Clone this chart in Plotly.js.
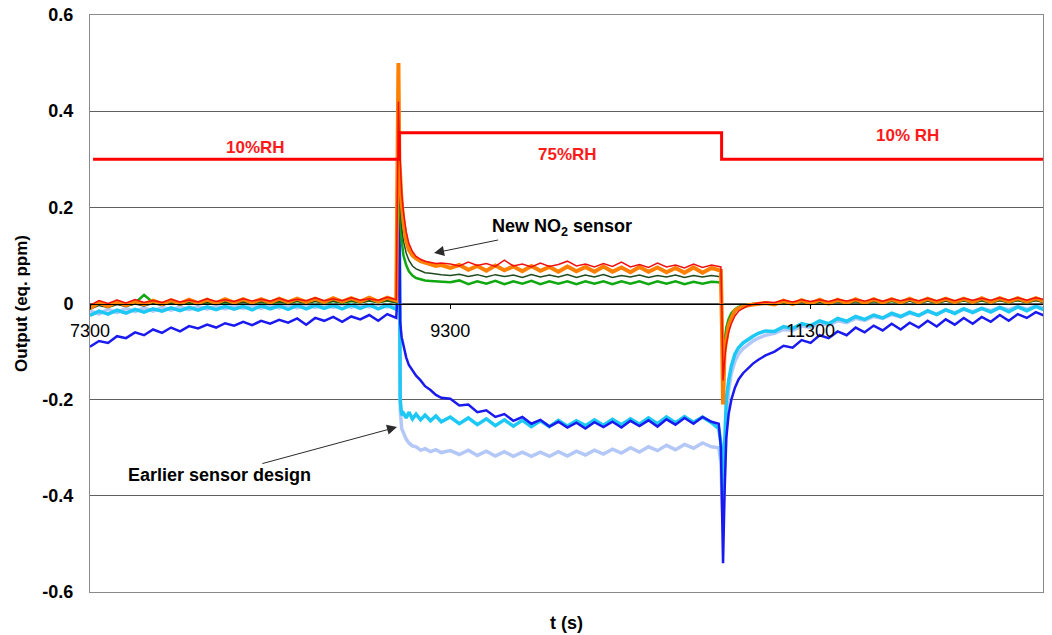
<!DOCTYPE html>
<html>
<head>
<meta charset="utf-8">
<script src="https://cdn.plot.ly/plotly-3.0.1.min.js"></script>
<style>html,body{margin:0;padding:0;background:#fff;}#chart{width:1052px;height:635px;}</style>
</head>
<body>
<div id="chart"></div>
<script>
// time axis (s)
const t = [7300,7350,7400,7450,7500,7550,7600,7650,7700,7750,7800,7850,7900,7950,8000,8050,8100,8150,8200,8250,8300,8350,8400,8450,8500,8550,8600,8650,8700,8750,8800,8850,8900,8950,9000,
9012,9017,9022,9030,9040,9055,9070,9090,9110,9135,9160,9190,9220,9250,
9300,9350,9400,9450,9500,9550,9600,9650,9700,9750,9800,9850,9900,9950,10000,10050,10100,10150,10200,10250,10300,10350,10400,10450,10500,10550,10600,10650,10700,10750,
10790,10802,10808,10814,10822,10832,10845,10860,10880,10900,10925,10950,10980,11010,11050,
11100,11150,11200,11250,11300,11350,11400,11450,11500,11550,11600,11650,11700,11750,11800,11850,11900,11950,12000,12050,12100,12150,12200,12250,12300,12350,12400,12450,12500,12550,12600];

// New NO2 sensor traces
const newOrange = [-0.010,0.002,-0.006,0.004,-0.004,0.005,-0.002,0.006,-0.001,0.007,0.000,0.008,0.001,0.008,0.001,0.009,0.002,0.009,0.002,0.009,0.002,0.010,0.003,0.010,0.003,0.010,0.003,0.011,0.004,0.011,0.004,0.012,0.004,0.012,0.006,
0.50,0.30,0.26,0.21,0.17,0.13,0.112,0.100,0.094,0.088,0.085,0.082,0.078,0.080,
0.074,0.080,0.070,0.078,0.068,0.079,0.069,0.077,0.067,0.078,0.068,0.076,0.066,0.077,0.067,0.076,0.066,0.077,0.066,0.075,0.065,0.076,0.066,0.075,0.065,0.074,0.064,0.075,0.064,0.074,
0.070,0.068,-0.05,-0.21,-0.10,-0.07,-0.045,-0.03,-0.015,-0.010,-0.006,-0.004,-0.002,0.000,0.001,
-0.002,0.006,-0.001,0.007,0.000,0.008,0.000,0.008,0.001,0.009,0.001,0.009,0.002,0.009,0.002,0.010,0.002,0.010,0.003,0.010,0.003,0.010,0.003,0.011,0.003,0.011,0.004,0.011,0.004,0.011,0.004];

const newRed = [-0.004,0.006,0.000,0.007,0.001,0.008,0.002,0.006,0.002,0.009,0.003,0.007,0.003,0.010,0.004,0.008,0.004,0.010,0.005,0.009,0.005,0.011,0.005,0.009,0.006,0.012,0.006,0.010,0.006,0.012,0.007,0.010,0.007,0.013,0.008,
0.42,0.34,0.28,0.23,0.19,0.15,0.125,0.108,0.098,0.092,0.088,0.086,0.083,0.084,
0.082,0.078,0.086,0.079,0.083,0.077,0.090,0.078,0.082,0.076,0.084,0.077,0.081,0.088,0.078,0.082,0.076,0.083,0.077,0.086,0.076,0.081,0.075,0.084,0.076,0.080,0.074,0.082,0.075,0.080,
0.078,0.076,-0.02,-0.16,-0.12,-0.085,-0.06,-0.042,-0.026,-0.016,-0.010,-0.005,-0.002,0.001,0.003,
0.002,0.007,0.003,0.008,0.004,0.008,0.004,0.009,0.005,0.009,0.005,0.010,0.005,0.010,0.006,0.010,0.006,0.011,0.006,0.011,0.006,0.011,0.007,0.011,0.007,0.012,0.007,0.012,0.007,0.012,0.008];

const newDarkGreen = [-0.012,-0.004,-0.008,-0.002,-0.006,-0.001,-0.005,0.000,-0.004,0.001,-0.003,0.002,-0.002,0.002,-0.002,0.003,-0.001,0.003,-0.001,0.004,0.000,0.004,0.000,0.005,0.000,0.005,0.001,0.005,0.001,0.006,0.001,0.006,0.002,0.006,0.002,
0.30,0.26,0.20,0.16,0.13,0.105,0.09,0.078,0.072,0.068,0.064,0.063,0.061,0.060,
0.058,0.061,0.056,0.060,0.055,0.060,0.056,0.059,0.054,0.060,0.055,0.059,0.055,0.060,0.054,0.059,0.055,0.060,0.054,0.058,0.055,0.059,0.054,0.058,0.055,0.059,0.054,0.058,0.055,0.058,
0.056,0.055,-0.03,-0.14,-0.09,-0.06,-0.038,-0.024,-0.014,-0.008,-0.005,-0.003,-0.002,-0.001,0.000,
-0.003,0.002,-0.002,0.003,-0.002,0.003,-0.001,0.004,-0.001,0.004,-0.001,0.004,0.000,0.005,0.000,0.005,0.000,0.005,0.001,0.005,0.001,0.006,0.001,0.006,0.001,0.006,0.002,0.006,0.002,0.006,0.002];

const newGreen = [-0.008,-0.002,-0.006,0.000,-0.004,0.001,0.018,0.002,-0.002,0.002,-0.002,0.002,-0.001,0.003,-0.001,0.003,0.000,0.004,0.000,0.004,0.000,0.004,0.001,0.005,0.001,0.005,0.001,0.005,0.001,0.005,0.002,0.006,0.002,0.006,0.002,
0.26,0.22,0.17,0.13,0.10,0.08,0.067,0.058,0.053,0.050,0.048,0.047,0.046,0.046,
0.044,0.048,0.040,0.046,0.041,0.047,0.040,0.046,0.041,0.047,0.040,0.046,0.041,0.046,0.040,0.046,0.041,0.046,0.040,0.046,0.041,0.046,0.040,0.046,0.041,0.046,0.040,0.045,0.041,0.045,
0.044,0.042,-0.04,-0.13,-0.08,-0.05,-0.032,-0.02,-0.012,-0.007,-0.004,-0.002,-0.001,0.000,0.000,
-0.002,0.003,-0.001,0.004,-0.001,0.004,0.000,0.005,0.000,0.005,0.000,0.005,0.001,0.005,0.001,0.006,0.001,0.006,0.001,0.006,0.002,0.006,0.002,0.006,0.002,0.007,0.002,0.007,0.002,0.007,0.003];

// Earlier sensor design traces
const oldBlue = [-0.090,-0.078,-0.082,-0.068,-0.072,-0.060,-0.066,-0.054,-0.061,-0.050,-0.058,-0.047,-0.052,-0.044,-0.050,-0.041,-0.046,-0.038,-0.045,-0.036,-0.042,-0.034,-0.040,-0.031,-0.044,-0.030,-0.036,-0.028,-0.038,-0.027,-0.033,-0.024,-0.036,-0.022,-0.030,
0.05,0.19,-0.04,-0.07,-0.09,-0.112,-0.128,-0.14,-0.15,-0.16,-0.172,-0.18,-0.19,-0.196,
-0.198,-0.212,-0.210,-0.226,-0.222,-0.236,-0.230,-0.244,-0.236,-0.250,-0.242,-0.256,-0.246,-0.258,-0.248,-0.260,-0.247,-0.257,-0.246,-0.258,-0.244,-0.255,-0.243,-0.256,-0.241,-0.252,-0.238,-0.250,-0.236,-0.246,
-0.25,-0.30,-0.40,-0.54,-0.40,-0.28,-0.23,-0.20,-0.175,-0.158,-0.145,-0.135,-0.125,-0.117,-0.108,
-0.100,-0.088,-0.092,-0.076,-0.082,-0.066,-0.072,-0.058,-0.066,-0.050,-0.060,-0.046,-0.056,-0.042,-0.054,-0.040,-0.050,-0.036,-0.048,-0.033,-0.044,-0.030,-0.042,-0.028,-0.038,-0.024,-0.036,-0.022,-0.030,-0.018,-0.026];

const oldCyan = [-0.025,-0.016,-0.022,-0.014,-0.020,-0.012,-0.018,-0.011,-0.016,-0.009,-0.015,-0.008,-0.014,-0.007,-0.013,-0.006,-0.012,-0.006,-0.013,-0.005,-0.011,-0.005,-0.012,-0.004,-0.011,-0.004,-0.010,-0.004,-0.011,-0.003,-0.010,-0.003,-0.011,-0.004,-0.012,
0.02,0.16,-0.20,-0.232,-0.228,-0.238,-0.226,-0.240,-0.230,-0.242,-0.232,-0.244,-0.234,-0.246,
-0.236,-0.250,-0.238,-0.252,-0.240,-0.254,-0.242,-0.255,-0.243,-0.256,-0.244,-0.256,-0.243,-0.255,-0.244,-0.254,-0.242,-0.253,-0.241,-0.252,-0.240,-0.251,-0.238,-0.250,-0.236,-0.248,-0.235,-0.247,-0.236,-0.248,
-0.26,-0.29,-0.35,-0.40,-0.30,-0.20,-0.16,-0.13,-0.105,-0.092,-0.082,-0.075,-0.068,-0.062,-0.057,
-0.058,-0.048,-0.052,-0.042,-0.046,-0.036,-0.042,-0.031,-0.037,-0.027,-0.033,-0.024,-0.030,-0.020,-0.027,-0.018,-0.025,-0.015,-0.023,-0.013,-0.021,-0.011,-0.019,-0.010,-0.018,-0.008,-0.017,-0.007,-0.015,-0.006,-0.014];

const oldLight = [-0.015,-0.022,-0.012,-0.019,-0.010,-0.017,-0.009,-0.016,-0.008,-0.014,-0.007,-0.013,-0.006,-0.012,-0.005,-0.011,-0.004,-0.010,-0.004,-0.010,-0.003,-0.009,-0.003,-0.009,-0.002,-0.008,-0.002,-0.008,-0.001,-0.008,-0.001,-0.007,-0.001,-0.007,-0.002,
0.03,0.20,-0.22,-0.26,-0.27,-0.282,-0.29,-0.296,-0.298,-0.305,-0.302,-0.308,-0.304,-0.310,
-0.306,-0.314,-0.305,-0.316,-0.307,-0.317,-0.308,-0.318,-0.309,-0.318,-0.309,-0.318,-0.308,-0.317,-0.307,-0.315,-0.305,-0.313,-0.303,-0.311,-0.300,-0.309,-0.298,-0.306,-0.295,-0.304,-0.293,-0.301,-0.290,-0.298,
-0.30,-0.33,-0.40,-0.45,-0.35,-0.24,-0.18,-0.145,-0.12,-0.105,-0.094,-0.086,-0.078,-0.072,-0.066,
-0.062,-0.054,-0.056,-0.047,-0.050,-0.041,-0.045,-0.036,-0.040,-0.031,-0.035,-0.027,-0.031,-0.023,-0.028,-0.020,-0.025,-0.017,-0.022,-0.014,-0.019,-0.012,-0.017,-0.010,-0.015,-0.008,-0.013,-0.006,-0.012,-0.005,-0.010];

// Relative humidity step profile
const rhTime = [7317, 9017, 10806, 12590];
const rhLevel = [0.30, 0.355, 0.30, 0.30];

// Tick labels
const xTickVals = [7300, 9300, 11300];
const xTickText = ['7300', '9300', '11300'];
const yTickVals = [-0.6, -0.4, -0.2, 0, 0.2, 0.4, 0.6];
const yTickText = ['-0.6', '-0.4', '-0.2', '0', '0.2', '0.4', '0.6'];

const FONT = '"Liberation Sans", Arial, Helvetica, sans-serif';
const xRange = [7300, 12590];

function tr(y, color, width, name) {
  return {x: t, y: y, type: 'scatter', mode: 'lines', name: name,
          line: {color: color, width: width}, hoverinfo: 'skip'};
}

const traces = [
  tr(oldLight, '#B4C8F8', 3.5, 'Earlier sensor 3'),
  tr(oldCyan, '#1EC8F5', 3.5, 'Earlier sensor 2'),
  tr(oldBlue, '#1A1AF0', 2.5, 'Earlier sensor 1'),
  tr(newGreen, '#10A810', 2.5, 'New sensor 4'),
  tr(newDarkGreen, '#1E4A1E', 1.5, 'New sensor 3'),
  tr(newOrange, '#FF8000', 4, 'New sensor 1'),
  tr(newRed, '#F01010', 1.5, 'New sensor 2'),
  {x: rhTime, y: rhLevel, xaxis: 'x2', type: 'scatter', mode: 'lines', name: 'RH',
   line: {color: '#FF0000', width: 3, shape: 'hv'}, hoverinfo: 'skip'}
];

const layout = {
  width: 1052, height: 635,
  margin: {l: 90, r: 9, t: 15, b: 43, pad: 0},
  paper_bgcolor: '#ffffff', plot_bgcolor: '#ffffff',
  showlegend: false,
  font: {family: FONT, size: 18, color: '#000'},
  xaxis: {
    range: xRange, anchor: 'free', position: 0.5,
    tickvals: xTickVals, ticktext: xTickText,
    ticks: 'outside', ticklen: 4, tickcolor: '#000',
    showline: true, linecolor: '#000', linewidth: 1,
    showgrid: false, zeroline: false,
    tickfont: {family: FONT, size: 18, color: '#000'},
    ticklabelstandoff: 7
  },
  xaxis2: {
    range: xRange, overlaying: 'x', anchor: 'y', side: 'bottom',
    showticklabels: false, ticks: '', showgrid: false, zeroline: false,
    showline: true, mirror: true, linecolor: '#8a8a8a', linewidth: 1,
    title: {text: 't (s)', font: {family: FONT, size: 18, color: '#000', weight: 'bold'}, standoff: 24}
  },
  yaxis: {
    range: [-0.6, 0.6], tickvals: yTickVals, ticktext: yTickText,
    showgrid: true, gridcolor: '#606060', gridwidth: 1,
    showline: true, mirror: true, linecolor: '#8a8a8a', linewidth: 1,
    zeroline: false, ticks: '', ticklabelstandoff: 12,
    tickfont: {family: FONT, size: 18, color: '#000', weight: 'bold'},
    title: {text: 'Output (eq. ppm)', font: {family: FONT, size: 17, color: '#000', weight: 'bold'}, standoff: 10}
  },
  annotations: [
    {x: 8217, y: 0.325, xref: 'x', yref: 'y', text: '10%RH', showarrow: false,
     font: {family: FONT, size: 17, color: '#FF1A1A', weight: 'bold'}},
    {x: 9950, y: 0.31, xref: 'x', yref: 'y', text: '75%RH', showarrow: false,
     font: {family: FONT, size: 17, color: '#FF1A1A', weight: 'bold'}},
    {x: 11839, y: 0.35, xref: 'x', yref: 'y', text: '10% RH', showarrow: false,
     font: {family: FONT, size: 17, color: '#FF1A1A', weight: 'bold'}},
    {x: 9210, y: 0.105, xref: 'x', yref: 'y', text: 'New NO<sub>2</sub> sensor',
     showarrow: true, ax: 128, ay: -26, arrowhead: 2, arrowsize: 2, arrowwidth: 1,
     arrowcolor: '#2a2a2a', standoff: 0,
     font: {family: FONT, size: 18, color: '#000', weight: 'bold'}},
    {x: 9004, y: -0.257, xref: 'x', yref: 'y', text: 'Earlier sensor design',
     showarrow: true, ax: -177, ay: 48, arrowhead: 2, arrowsize: 2, arrowwidth: 1,
     arrowcolor: '#2a2a2a', standoff: 0,
     font: {family: FONT, size: 18, color: '#000', weight: 'bold'}}
  ]
};

Plotly.newPlot('chart', traces, layout, {displayModeBar: false, staticPlot: true});
</script>
</body>
</html>
